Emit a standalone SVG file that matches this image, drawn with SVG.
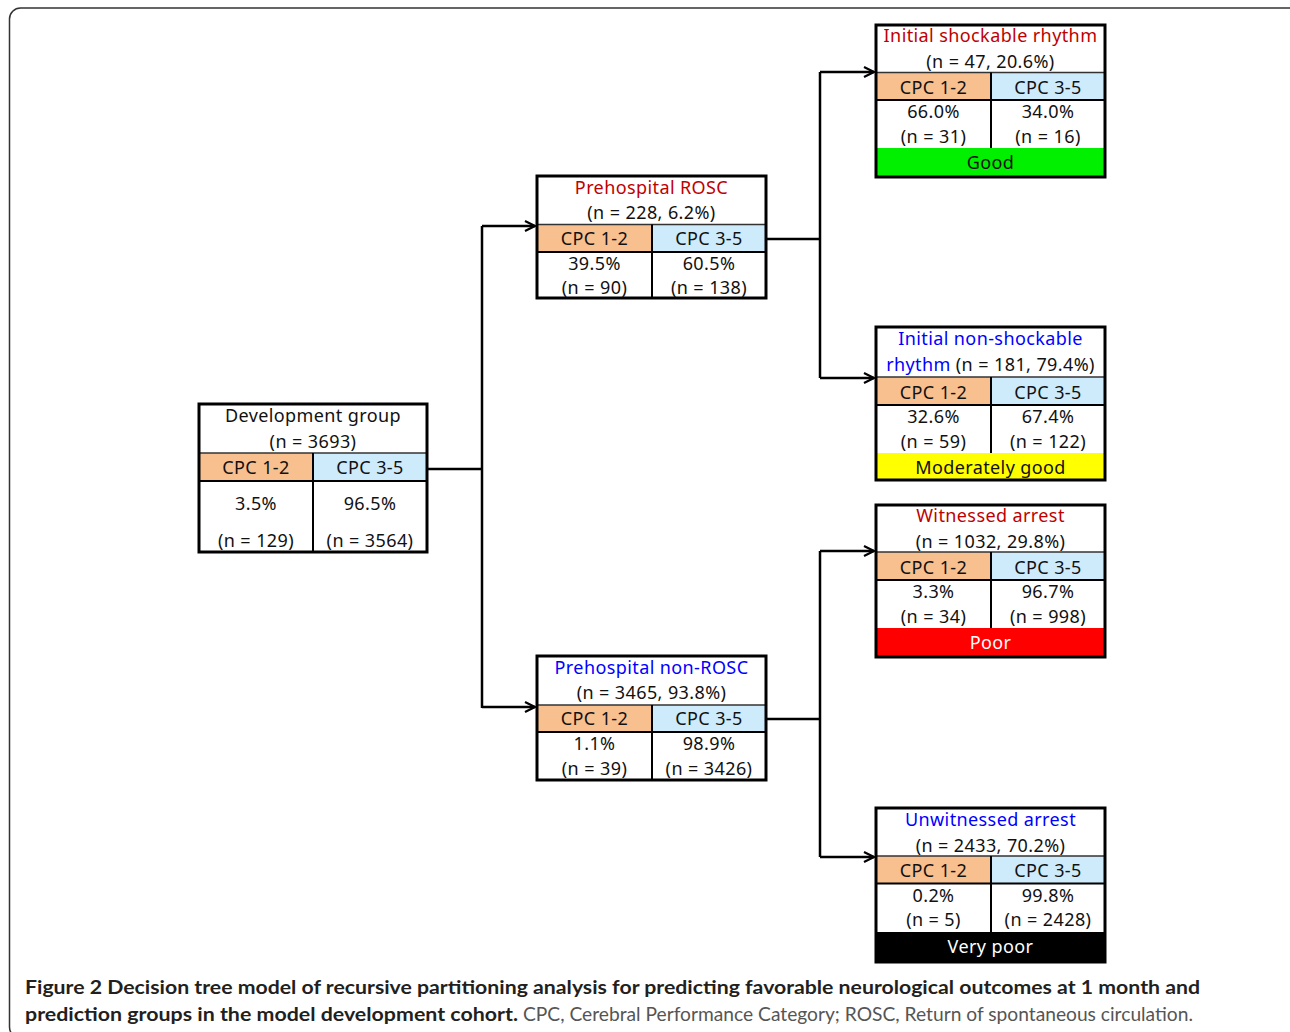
<svg xmlns="http://www.w3.org/2000/svg" width="1290" height="1032" viewBox="0 0 1290 1032">
<defs>
<marker id="arr" viewBox="0 0 12 12" refX="11" refY="6" markerWidth="12" markerHeight="12" markerUnits="userSpaceOnUse" orient="auto">
<path d="M1,1 L11,6 L1,11" fill="none" stroke="#000" stroke-width="2.2"/>
</marker>
<style>
.t{font-family:"Noto Sans","DejaVu Sans",sans-serif;font-size:18px;letter-spacing:0.4px;text-anchor:middle;fill:#111}
.red{fill:#C00000}
.blue{fill:#0000FF}
.wt{fill:#FFFFFF}
.box{fill:none;stroke:#000;stroke-width:3}
.bg{fill:#FFFFFF}
.c12{fill:#F8BF8F}
.c35{fill:#CDEBFB}
.hl{stroke:#333;stroke-width:1.5}
.il{stroke:#000;stroke-width:2}
.con{fill:none;stroke:#000;stroke-width:2.5}
.cap{font-family:Lato,"Liberation Sans",sans-serif;font-size:19px}
</style>
</defs>
<rect width="1290" height="1032" fill="#FFFFFF"/>
<rect x="9.5" y="8" width="1290" height="1030" rx="11" fill="none" stroke="#333" stroke-width="1.5"/>

<g id="connectors">
<path class="con" d="M427,469 H482 M482,226 V708 M766,239 H820 M820,72 V378 M766,719 H820 M820,551 V857"/>
<path class="con" d="M482,226 H535" marker-end="url(#arr)"/>
<path class="con" d="M482,707 H535" marker-end="url(#arr)"/>
<path class="con" d="M820,72 H874" marker-end="url(#arr)"/>
<path class="con" d="M820,378 H874" marker-end="url(#arr)"/>
<path class="con" d="M820,551 H874" marker-end="url(#arr)"/>
<path class="con" d="M820,857 H874" marker-end="url(#arr)"/>
</g>

<g id="root">
<rect class="bg" x="199" y="404" width="228" height="148"/>
<rect class="c12" x="199" y="453" width="114" height="28"/>
<rect class="c35" x="313" y="453" width="114" height="28"/>
<line class="hl" x1="199" y1="453" x2="427" y2="453"/>
<line class="il" x1="199" y1="481" x2="427" y2="481"/>
<line class="il" x1="313" y1="453" x2="313" y2="552"/>
<rect class="box" x="199" y="404" width="228" height="148"/>
<text class="t" x="313" y="422">Development group</text>
<text class="t" x="313" y="448">(n = 3693)</text>
<text class="t" x="256" y="474">CPC 1-2</text>
<text class="t" x="370" y="474">CPC 3-5</text>
<text class="t" x="256" y="510">3.5%</text>
<text class="t" x="370" y="510">96.5%</text>
<text class="t" x="256" y="547">(n = 129)</text>
<text class="t" x="370" y="547">(n = 3564)</text>
</g>

<g id="rosc">
<rect class="bg" x="537" y="176" width="229" height="122"/>
<rect class="c12" x="537" y="224.5" width="115" height="27.5"/>
<rect class="c35" x="652" y="224.5" width="114" height="27.5"/>
<line class="hl" x1="537" y1="224.5" x2="766" y2="224.5"/>
<line class="il" x1="537" y1="252" x2="766" y2="252"/>
<line class="il" x1="652" y1="224.5" x2="652" y2="298"/>
<rect class="box" x="537" y="176" width="229" height="122"/>
<text class="t red" x="651.5" y="194">Prehospital ROSC</text>
<text class="t" x="651.5" y="219">(n = 228, 6.2%)</text>
<text class="t" x="594.5" y="245">CPC 1-2</text>
<text class="t" x="709" y="245">CPC 3-5</text>
<text class="t" x="594.5" y="270">39.5%</text>
<text class="t" x="709" y="270">60.5%</text>
<text class="t" x="594.5" y="294">(n = 90)</text>
<text class="t" x="709" y="294">(n = 138)</text>
</g>

<g id="nonrosc">
<rect class="bg" x="537" y="656" width="229" height="124"/>
<rect class="c12" x="537" y="705" width="115" height="27"/>
<rect class="c35" x="652" y="705" width="114" height="27"/>
<line class="hl" x1="537" y1="705" x2="766" y2="705"/>
<line class="il" x1="537" y1="732" x2="766" y2="732"/>
<line class="il" x1="652" y1="705" x2="652" y2="780"/>
<rect class="box" x="537" y="656" width="229" height="124"/>
<text class="t blue" x="651.5" y="674">Prehospital non-ROSC</text>
<text class="t" x="651.5" y="699">(n = 3465, 93.8%)</text>
<text class="t" x="594.5" y="725">CPC 1-2</text>
<text class="t" x="709" y="725">CPC 3-5</text>
<text class="t" x="594.5" y="750">1.1%</text>
<text class="t" x="709" y="750">98.9%</text>
<text class="t" x="594.5" y="775">(n = 39)</text>
<text class="t" x="709" y="775">(n = 3426)</text>
</g>

<g id="shockable">
<rect class="bg" x="876" y="25" width="229" height="152"/>
<rect class="c12" x="876" y="72.5" width="115" height="27.5"/>
<rect class="c35" x="991" y="72.5" width="114" height="27.5"/>
<rect x="876" y="148" width="229" height="29" fill="#00F000"/>
<line class="hl" x1="876" y1="72.5" x2="1105" y2="72.5"/>
<line class="il" x1="876" y1="100" x2="1105" y2="100"/>
<line class="il" x1="991" y1="72.5" x2="991" y2="148"/>
<rect class="box" x="876" y="25" width="229" height="152"/>
<text class="t red" x="990.5" y="42">Initial shockable rhythm</text>
<text class="t" x="990.5" y="68">(n = 47, 20.6%)</text>
<text class="t" x="933.5" y="94">CPC 1-2</text>
<text class="t" x="1048" y="94">CPC 3-5</text>
<text class="t" x="933.5" y="118">66.0%</text>
<text class="t" x="1048" y="118">34.0%</text>
<text class="t" x="933.5" y="143">(n = 31)</text>
<text class="t" x="1048" y="143">(n = 16)</text>
<text class="t" x="990.5" y="169">Good</text>
</g>

<g id="nonshockable">
<rect class="bg" x="876" y="327" width="229" height="153"/>
<rect class="c12" x="876" y="377" width="115" height="28"/>
<rect class="c35" x="991" y="377" width="114" height="28"/>
<rect x="876" y="453" width="229" height="27" fill="#FFFF00"/>
<line class="hl" x1="876" y1="377" x2="1105" y2="377"/>
<line class="il" x1="876" y1="405" x2="1105" y2="405"/>
<line class="il" x1="991" y1="377" x2="991" y2="453"/>
<rect class="box" x="876" y="327" width="229" height="153"/>
<text class="t blue" x="990.5" y="345">Initial non-shockable</text>
<text class="t" x="990.5" y="371"><tspan class="blue">rhythm</tspan> (n = 181, 79.4%)</text>
<text class="t" x="933.5" y="399">CPC 1-2</text>
<text class="t" x="1048" y="399">CPC 3-5</text>
<text class="t" x="933.5" y="423">32.6%</text>
<text class="t" x="1048" y="423">67.4%</text>
<text class="t" x="933.5" y="448">(n = 59)</text>
<text class="t" x="1048" y="448">(n = 122)</text>
<text class="t" x="990.5" y="474">Moderately good</text>
</g>

<g id="witnessed">
<rect class="bg" x="876" y="505" width="229" height="152"/>
<rect class="c12" x="876" y="552" width="115" height="28"/>
<rect class="c35" x="991" y="552" width="114" height="28"/>
<rect x="876" y="628" width="229" height="29" fill="#FF0000"/>
<line class="hl" x1="876" y1="552" x2="1105" y2="552"/>
<line class="il" x1="876" y1="580" x2="1105" y2="580"/>
<line class="il" x1="991" y1="552" x2="991" y2="628"/>
<rect class="box" x="876" y="505" width="229" height="152"/>
<text class="t red" x="990.5" y="522">Witnessed arrest</text>
<text class="t" x="990.5" y="548">(n = 1032, 29.8%)</text>
<text class="t" x="933.5" y="574">CPC 1-2</text>
<text class="t" x="1048" y="574">CPC 3-5</text>
<text class="t" x="933.5" y="598">3.3%</text>
<text class="t" x="1048" y="598">96.7%</text>
<text class="t" x="933.5" y="623">(n = 34)</text>
<text class="t" x="1048" y="623">(n = 998)</text>
<text class="t wt" x="990.5" y="649">Poor</text>
</g>

<g id="unwitnessed">
<rect class="bg" x="876" y="808" width="229" height="154"/>
<rect class="c12" x="876" y="856" width="115" height="27.5"/>
<rect class="c35" x="991" y="856" width="114" height="27.5"/>
<rect x="876" y="932" width="229" height="30" fill="#000000"/>
<line class="hl" x1="876" y1="856" x2="1105" y2="856"/>
<line class="il" x1="876" y1="883.5" x2="1105" y2="883.5"/>
<line class="il" x1="991" y1="856" x2="991" y2="932"/>
<rect class="box" x="876" y="808" width="229" height="154"/>
<text class="t blue" x="990.5" y="826">Unwitnessed arrest</text>
<text class="t" x="990.5" y="852">(n = 2433, 70.2%)</text>
<text class="t" x="933.5" y="877">CPC 1-2</text>
<text class="t" x="1048" y="877">CPC 3-5</text>
<text class="t" x="933.5" y="902">0.2%</text>
<text class="t" x="1048" y="902">99.8%</text>
<text class="t" x="933.5" y="926">(n = 5)</text>
<text class="t" x="1048" y="926">(n = 2428)</text>
<text class="t wt" x="990.5" y="953">Very poor</text>
</g>

<g id="caption">
<text class="cap" x="25" y="994" font-weight="bold" fill="#231F20" textLength="1175" lengthAdjust="spacingAndGlyphs">Figure 2 Decision tree model of recursive partitioning analysis for predicting favorable neurological outcomes at 1 month and</text>
<text class="cap" x="25" y="1021" font-weight="bold" fill="#231F20" textLength="493" lengthAdjust="spacingAndGlyphs">prediction groups in the model development cohort.</text>
<text class="cap" x="523" y="1021" fill="#555555" textLength="670" lengthAdjust="spacingAndGlyphs">CPC, Cerebral Performance Category; ROSC, Return of spontaneous circulation.</text>
</g>
</svg>
